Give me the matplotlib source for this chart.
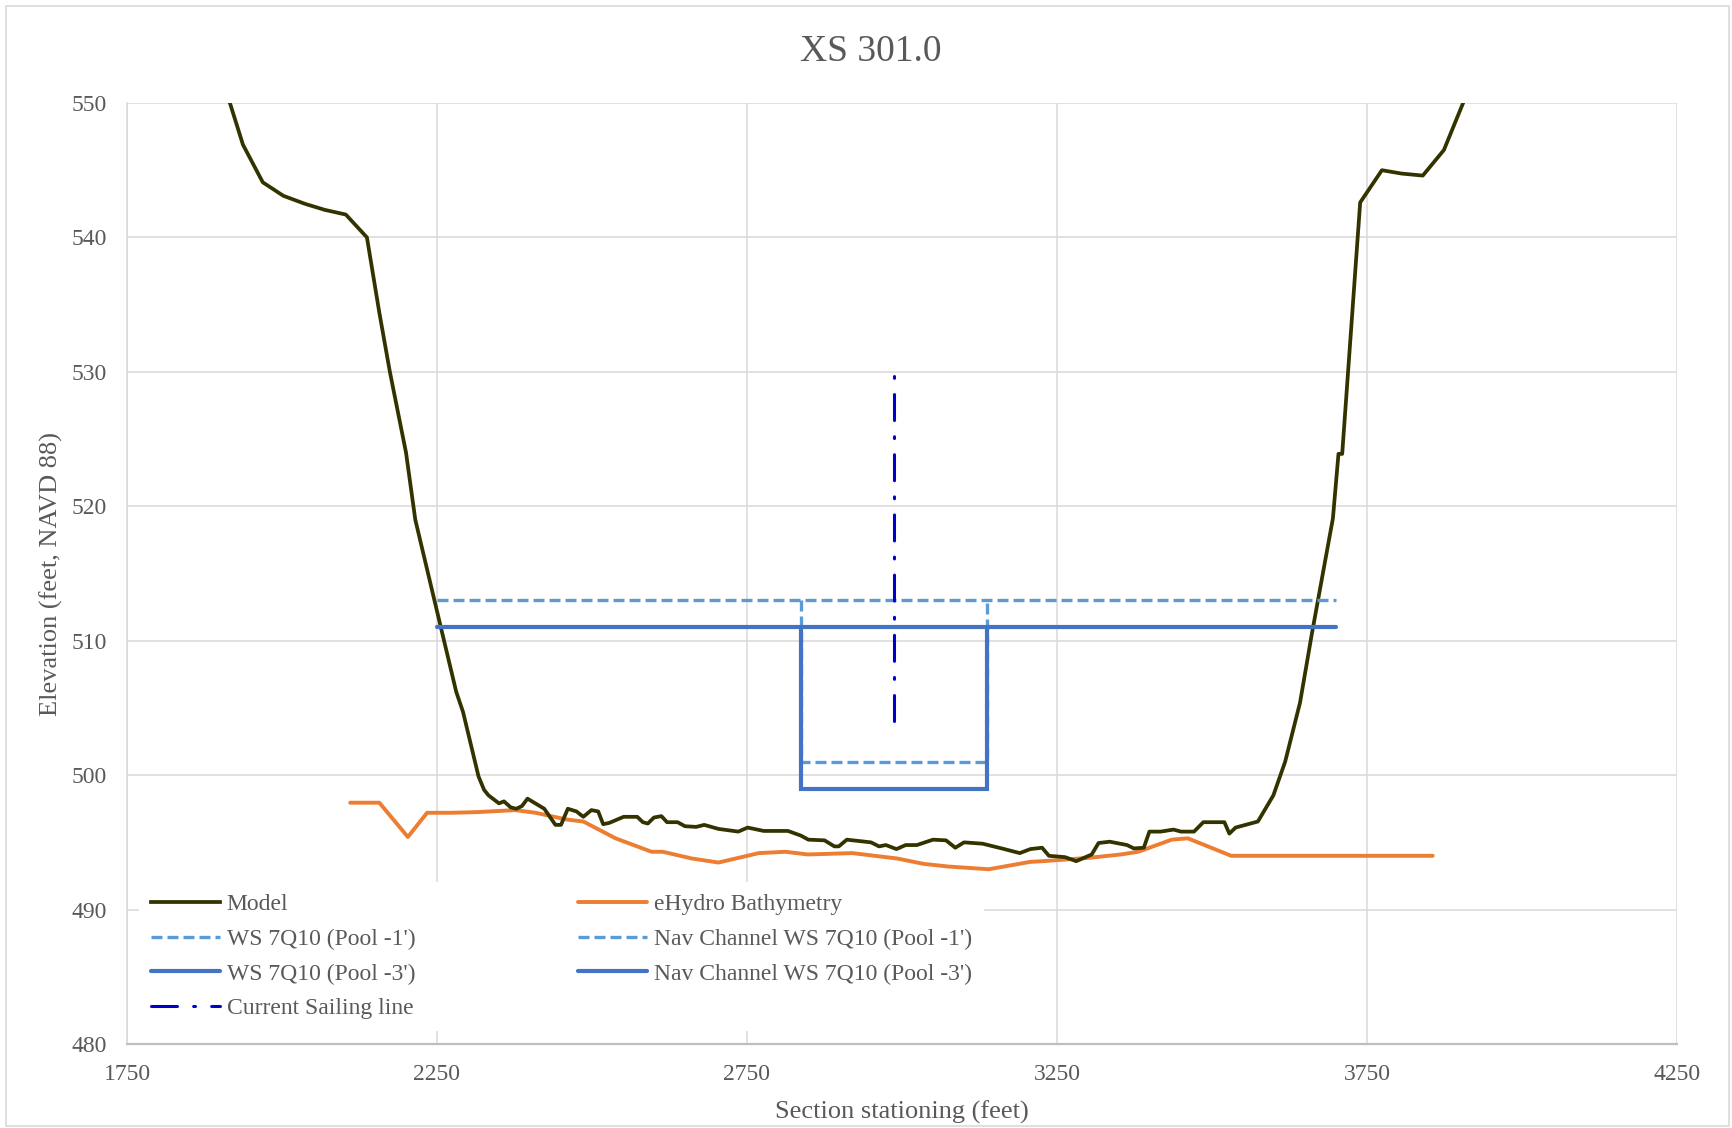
import matplotlib
matplotlib.use("Agg")
import matplotlib.pyplot as plt
from matplotlib.patches import Rectangle

# ------------------------------------------------------------------
# Data
# ------------------------------------------------------------------
model_x = [1916, 1937, 1969, 2002, 2037, 2069, 2103, 2137, 2157, 2174, 2200, 2215,
           2250, 2281, 2292, 2317, 2326, 2333, 2350, 2358, 2369, 2378, 2387, 2396,
           2423, 2441, 2450, 2461, 2475, 2486, 2499, 2510, 2518, 2528, 2551, 2573,
           2582, 2590, 2600, 2612, 2621, 2638, 2650, 2668, 2681, 2704, 2736, 2751,
           2777, 2816, 2837, 2849, 2875, 2891, 2898, 2911, 2950, 2963, 2974, 2991,
           3006, 3024, 3050, 3071, 3086, 3100, 3130, 3165, 3190, 3207, 3226, 3237,
           3263, 3281, 3306, 3317, 3335, 3363, 3374, 3390, 3399, 3417, 3438, 3450,
           3471, 3486, 3520, 3528, 3538, 3574, 3599, 3618, 3642, 3661, 3695, 3704,
           3710, 3739, 3774, 3806, 3840, 3874, 3905]
model_y = [550.0, 546.9, 544.1, 543.1, 542.5, 542.05, 541.7, 540.0, 534.4, 530.0, 524.0, 519.0,
           512.2, 506.2, 504.7, 499.9, 498.9, 498.5, 497.9, 498.05, 497.6, 497.5, 497.7, 498.25,
           497.5, 496.3, 496.3, 497.5, 497.3, 496.9, 497.4, 497.3, 496.35, 496.45, 496.9, 496.9,
           496.5, 496.4, 496.85, 496.95, 496.5, 496.5, 496.2, 496.15, 496.3, 496.0, 495.8, 496.1,
           495.85, 495.85, 495.5, 495.2, 495.15, 494.7, 494.7, 495.2, 495.0, 494.7, 494.8, 494.5,
           494.8, 494.8, 495.2, 495.15, 494.6, 495.0, 494.9, 494.5, 494.2, 494.5, 494.6, 494.0,
           493.9, 493.6, 494.1, 494.95, 495.05, 494.8, 494.55, 494.6, 495.8, 495.8, 495.95, 495.8,
           495.8, 496.5, 496.5, 495.65, 496.1, 496.55, 498.5, 501.0, 505.4, 510.5, 519.1, 523.9,
           523.9, 542.6, 545.0, 544.75, 544.6, 546.5, 550.0]

ehydro_x = [2110, 2157, 2203, 2234, 2272, 2315, 2376, 2409, 2459, 2486, 2538, 2596,
            2614, 2661, 2704, 2769, 2812, 2848, 2920, 2992, 3035, 3075, 3140, 3207,
            3227, 3302, 3353, 3381, 3435, 3461, 3531, 3856]
ehydro_y = [497.95, 497.95, 495.4, 497.2, 497.2, 497.25, 497.4, 497.2, 496.7, 496.55, 495.3, 494.3,
            494.3, 493.8, 493.5, 494.2, 494.3, 494.1, 494.2, 493.8, 493.4, 493.2, 493.0, 493.55,
            493.6, 493.85, 494.1, 494.3, 495.2, 495.3, 494.0, 494.0]

ws_x = [2250, 3700]
ws_pool1_y = [513, 513]
ws_pool3_y = [511, 511]

nav_x = [2837, 2837, 3137, 3137]
nav_pool1_y = [513, 501, 501, 513]
nav_pool3_y = [511, 499, 499, 511]

sailing_x = [2987, 2987]
sailing_y = [504, 530]

x_ticks = [1750, 2250, 2750, 3250, 3750, 4250]
y_ticks = [480, 490, 500, 510, 520, 530, 540, 550]

# ------------------------------------------------------------------
# Style
# ------------------------------------------------------------------
plt.rcParams['font.family'] = ['Liberation Serif', 'DejaVu Serif']
text_col = '#595959'
grid_col = '#D9D9D9'

W, H = 1732, 1128
fig = plt.figure(figsize=(W / 100, H / 100), dpi=100)
ax = fig.add_axes([127 / W, 1 - 1044 / H, 1550 / W, 941 / H])

# outer chart border
fig.add_artist(Rectangle((6 / W, 2 / H), 1723 / W, 1120 / H, transform=fig.transFigure,
                         fill=False, edgecolor='#D9D9D9', linewidth=1.2))

h_model, = ax.plot(model_x, model_y, color='#333300', lw=2.7, zorder=4, label='Model')
h_eh, = ax.plot(ehydro_x, ehydro_y, color='#ED7D31', lw=2.8, zorder=3,
                solid_capstyle='round', label='eHydro Bathymetry')

h_ws1, = ax.plot(ws_x, ws_pool1_y, color='#5B9BD5', lw=2.4, dashes=(3.3, 1.5),
                 zorder=5, label="WS 7Q10 (Pool -1')")
h_nav1, = ax.plot(nav_x, nav_pool1_y, color='#5B9BD5', lw=2.4, dashes=(3.3, 1.5),
                  zorder=5, label="Nav Channel WS 7Q10 (Pool -1')")
h_ws3, = ax.plot(ws_x, ws_pool3_y, color='#4472C4', lw=3.0, zorder=5,
                 solid_capstyle='round', label="WS 7Q10 (Pool -3')")
h_nav3, = ax.plot(nav_x, nav_pool3_y, color='#4472C4', lw=3.0, zorder=5,
                  solid_capstyle='round', solid_joinstyle='miter',
                  label="Nav Channel WS 7Q10 (Pool -3')")
# drawn bottom-up so the pattern ends with a dot at the top, as in the reference
h_sail, = ax.plot(sailing_x, sailing_y, color='#0000CC', lw=2.2, zorder=6,
                  dashes=(8.5, 5.3, 0.6, 5.3), dash_capstyle='round',
                  label='Current Sailing line')

ax.set_xlim(1750, 4250)
ax.set_ylim(480, 550)
ax.set_xticks(x_ticks)
ax.set_yticks(y_ticks)
ax.grid(True, color=grid_col, lw=1.1, zorder=0)
ax.set_axisbelow(True)

for side in ['top', 'right']:
    ax.spines[side].set_visible(False)
ax.spines['left'].set_color(grid_col)
ax.spines['left'].set_linewidth(1.1)
ax.spines['bottom'].set_color('#BFBFBF')
ax.spines['bottom'].set_linewidth(1.6)

ax.tick_params(axis='both', length=0, labelsize=17, labelcolor=text_col)
ax.tick_params(axis='y', pad=14.5)
ax.tick_params(axis='x', pad=14.5)

fig.text(0.5025, 1 - 52 / H, 'XS 301.0', fontsize=27, color=text_col,
         ha='center', va='center')
ax.set_xlabel('Section stationing (feet)', fontsize=19, color=text_col, va='center')
ax.xaxis.set_label_coords(0.5, -0.0725)
ax.set_ylabel('Elevation (feet, NAVD 88)', fontsize=19, color=text_col, va='center')
ax.yaxis.set_label_coords(-0.049, 0.5)

handles = [h_model, h_ws1, h_ws3, h_sail, h_eh, h_nav1, h_nav3]
leg = ax.legend(handles=handles, ncol=2, loc='lower left',
                bbox_to_anchor=(0.008, 0.0135), fontsize=17, frameon=True,
                facecolor='white', edgecolor='none', framealpha=1, fancybox=False,
                handlelength=2.9, handletextpad=0.3, columnspacing=6.9,
                labelspacing=0.56, borderpad=0.5, borderaxespad=0)
for t in leg.get_texts():
    t.set_color(text_col)
leg.set_zorder(7)

fig.savefig('out.png', dpi=100)
